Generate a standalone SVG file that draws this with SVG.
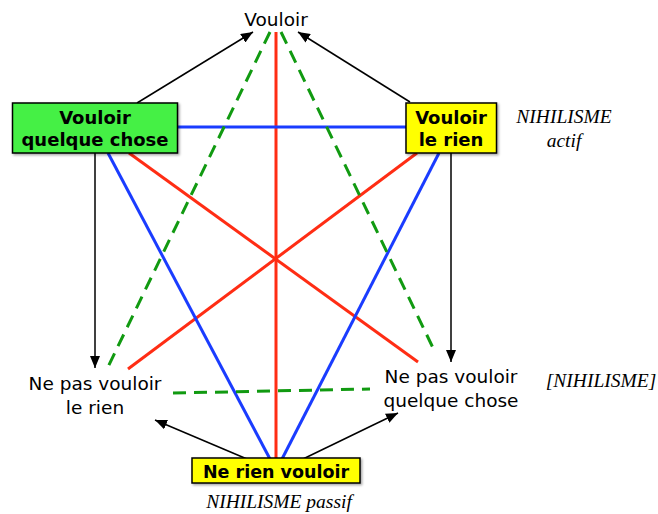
<svg xmlns="http://www.w3.org/2000/svg" width="658" height="514" viewBox="0 0 658 514">
<defs>
<marker id="ah" viewBox="0 0 12 10" refX="12" refY="5" markerWidth="12" markerHeight="10" markerUnits="userSpaceOnUse" orient="auto">
<path d="M0,0 L12,5 L0,10 z" fill="#000"/>
</marker>
<filter id="sh" x="-10%" y="-10%" width="130%" height="140%">
<feDropShadow dx="1.5" dy="1.5" stdDeviation="0.8" flood-color="#000" flood-opacity="0.35"/>
</filter>
</defs>
<style>
.lbl{font-family:"DejaVu Sans","Verdana",sans-serif;font-size:18.5px;fill:#000;text-anchor:middle}
.b{font-family:"DejaVu Sans","Verdana",sans-serif;font-weight:bold;font-size:18px;fill:#000;text-anchor:middle}
.it{font-family:"Liberation Serif","Times New Roman",serif;font-style:italic;font-size:19.5px;fill:#000;text-anchor:middle}
.box{stroke:#000;stroke-width:1.5;filter:url(#sh)}
.red{stroke:#ff2d14;stroke-width:3;fill:none}
.blue{stroke:#1a3cff;stroke-width:3;fill:none}
.gd{stroke:#119a11;stroke-width:3;fill:none;stroke-dasharray:13,8}
.arr{stroke:#000;stroke-width:1.5;fill:none;marker-end:url(#ah)}
</style>
<g id="connectors">
<line class="red" x1="276" y1="32" x2="276" y2="459"/>
<line class="red" x1="129" y1="153" x2="418" y2="362"/>
<line class="red" x1="417" y1="153" x2="128" y2="369"/>
<line class="blue" x1="177" y1="127" x2="406" y2="127"/>
<line class="blue" x1="108" y1="153" x2="270" y2="459"/>
<line class="blue" x1="439" y1="153" x2="282" y2="459"/>
<line class="gd" x1="270" y1="32" x2="107" y2="369"/>
<line class="gd" x1="281" y1="32" x2="435" y2="352"/>
<line class="gd" x1="173" y1="393" x2="370" y2="389"/>
<line class="arr" x1="137" y1="103" x2="253" y2="32"/>
<line class="arr" x1="410" y1="102" x2="298" y2="32"/>
<line class="arr" x1="95" y1="153" x2="95" y2="368"/>
<line class="arr" x1="451" y1="153" x2="451" y2="362"/>
<line class="arr" x1="247" y1="459" x2="155" y2="420"/>
<line class="arr" x1="303" y1="459" x2="398" y2="413"/>
</g>
<g id="vouloir">
<text class="lbl" x="276" y="26">Vouloir</text>
</g>
<g id="vouloir-quelque-chose">
<rect class="box" x="12.5" y="103" width="165" height="50" fill="#44f044"/>
<text class="b" x="95" y="124">Vouloir</text>
<text class="b" x="95" y="146">quelque chose</text>
</g>
<g id="vouloir-le-rien">
<rect class="box" x="406" y="103" width="90.5" height="50" fill="#ffff00"/>
<text class="b" x="451" y="124">Vouloir</text>
<text class="b" x="451" y="146">le rien</text>
</g>
<g id="nihilisme-actif">
<text class="it" x="564" y="123">NIHILISME</text>
<text class="it" x="564" y="147">actif</text>
</g>
<g id="ne-pas-vouloir-le-rien">
<text class="lbl" x="95" y="390">Ne pas vouloir</text>
<text class="lbl" x="95" y="414">le rien</text>
</g>
<g id="ne-pas-vouloir-quelque-chose">
<text class="lbl" x="451" y="383">Ne pas vouloir</text>
<text class="lbl" x="451" y="407">quelque chose</text>
</g>
<g id="nihilisme-bracket">
<text class="it" x="601" y="387">[NIHILISME]</text>
</g>
<g id="ne-rien-vouloir">
<rect class="box" x="192" y="458" width="168" height="25" fill="#ffff00"/>
<text class="b" x="276" y="477.5" style="font-size:17.5px">Ne rien vouloir</text>
</g>
<g id="nihilisme-passif">
<text class="it" x="279" y="508">NIHILISME passif</text>
</g>
</svg>
